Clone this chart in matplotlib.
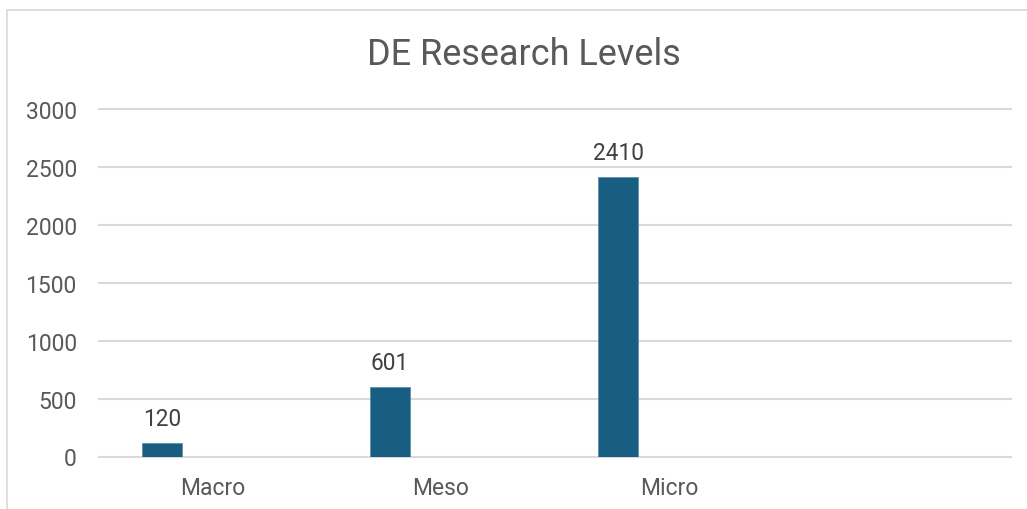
import numpy as np
import matplotlib.pyplot as plt
from matplotlib.patches import Rectangle

categories = ["Macro", "Meso", "Micro", ""]
values = [120, 601, 2410]
yticks = [0, 500, 1000, 1500, 2000, 2500, 3000]
title = "DE Research Levels"

bar_color = "#175e82"
text_color = "#595959"
grid_color = "#d9d9d9"

plt.rcParams['font.family'] = ['Roboto', 'DejaVu Sans']

fig = plt.figure(figsize=(10.27, 5.10), dpi=100)
fig.patches.append(Rectangle((7/1027, -0.1), 1.2, (510-11)/510 + 0.1, transform=fig.transFigure,
                             facecolor="white", edgecolor=grid_color, linewidth=1.2, zorder=-1))

ax = fig.add_axes([99/1027, 52.5/510, 912/1027, 347.5/510])
ax.set_facecolor("none")

x = np.arange(len(values))
offset = -51/228
bars = ax.bar(x + offset, values, width=40/228, color=bar_color, edgecolor="#5f8fa8",
              linewidth=0.6, zorder=3)
for xi, v in zip(x, values):
    ax.annotate(str(v), (xi + offset, v), xytext=(0, 13), textcoords="offset points",
                ha="center", va="baseline", fontsize=16.3, color="#404040")

ax.set_xlim(-0.5, len(categories) - 0.5)
ax.set_ylim(0, 3000)
ax.set_yticks(yticks)
ax.set_xticks(np.arange(len(categories)))
ax.set_xticklabels(categories)
ax.tick_params(axis="both", length=0, labelsize=16.5, labelcolor=text_color)
ax.tick_params(axis="y", pad=16)
ax.tick_params(axis="x", pad=14)
for s in ax.spines.values():
    s.set_visible(False)
for t in yticks:
    ax.axhline(t, color=grid_color, linewidth=1.5, zorder=1, clip_on=False)

fig.text(0.51, (510-65)/510, title, ha="center", va="baseline", fontsize=25.9, color=text_color)

plt.savefig("out.png", dpi=100)
